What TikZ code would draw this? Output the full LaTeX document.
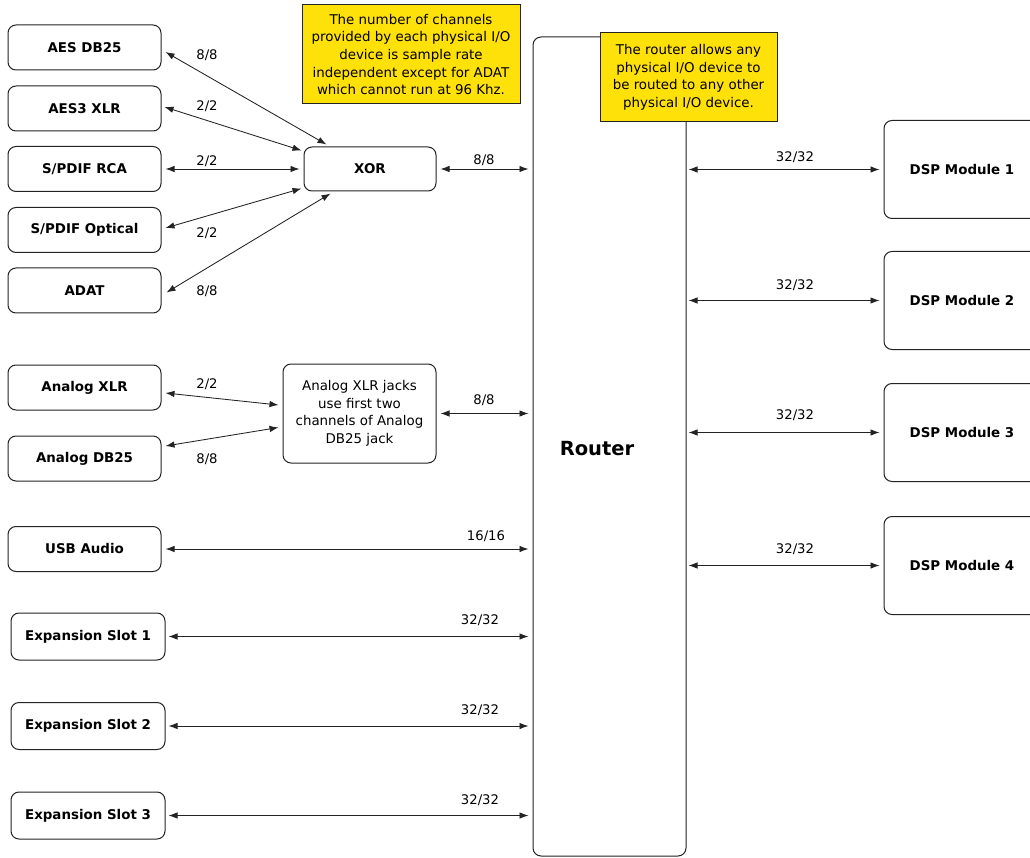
\documentclass[tikz,border=0pt]{standalone}
\usepackage{fontspec}
\setmainfont{DejaVu Sans}
\usetikzlibrary{arrows.meta}
\definecolor{noteyellow}{RGB}{255,225,10}
\definecolor{ink}{RGB}{35,35,35}
\begin{document}
\begin{tikzpicture}[x=1pt,y=-1pt,
  box/.style={draw=ink, line width=1pt, rounded corners=8pt, inner sep=0pt,
    font=\fontsize{13.4}{15}\selectfont\bfseries},
  dev/.style={box, minimum width=153pt, minimum height=45pt},
  expbox/.style={box, minimum width=154pt, minimum height=47pt},
  dspbox/.style={box, minimum width=156pt, minimum height=98pt},
  notebox/.style={draw=ink, line width=1pt, fill=noteyellow, align=center, inner sep=0pt,
    font=\fontsize{13.4}{17.6}\selectfont},
  lbl/.style={font=\fontsize{13.2}{15}\selectfont, inner sep=0pt},
  link/.style={{Latex[length=9pt,width=6.5pt]}-{Latex[length=9pt,width=6.5pt]}, draw=ink, line width=0.85pt},
  gapped/.style={link, shorten <=4pt, shorten >=4pt}
]
\useasboundingbox (0,0) rectangle (1030,858);
\fill[white] (0,0) rectangle (1030,858);
\clip (0,0) rectangle (1030,858);

% left devices
\node[dev] (aesdb) at (84.5,47.5) {AES DB25};
\node[dev] (aes3) at (84.5,108.5) {AES3 XLR};
\node[dev] (rca) at (84.5,169) {S/PDIF RCA};
\node[dev] (opt) at (84.5,230) {S/PDIF Optical};
\node[dev] (adat) at (84.5,290.5) {ADAT};
\node[dev] (axlr) at (84.5,387.5) {Analog XLR};
\node[dev] (adb) at (84.5,458.5) {Analog DB25};
\node[dev] (usb) at (84.5,549) {USB Audio};
\node[expbox] (exp1) at (88,636.5) {Expansion Slot 1};
\node[expbox] (exp2) at (88,726) {Expansion Slot 2};
\node[expbox] (exp3) at (88,815.5) {Expansion Slot 3};

% middle
\node[box, minimum width=132pt, minimum height=44pt] (xor) at (370,169) {XOR};
\node[box, minimum width=153pt, minimum height=99pt, align=center,
  font=\fontsize{13.4}{17.6}\selectfont] (anote) at (359.5,413.5)
  {Analog XLR jacks\\use first two\\channels of Analog\\DB25 jack};

% router
\node[box, minimum width=153pt, minimum height=819pt] (router) at (609.5,446.5) {};
\node[font=\fontsize{19.5}{22}\selectfont\bfseries, inner sep=0pt] (routerlbl) at (597,449) {Router};

% DSP modules
\node[dspbox] (dsp1) at (962,169.5) {DSP Module 1};
\node[dspbox] (dsp2) at (962,300.5) {DSP Module 2};
\node[dspbox] (dsp3) at (962,432.5) {DSP Module 3};
\node[dspbox] (dsp4) at (962,565.5) {DSP Module 4};

% notes
\node[notebox, minimum width=218pt, minimum height=99pt] (note1) at (411,54.5)
  {The number of channels\\provided by each physical I/O\\device is sample rate\\independent except for ADAT\\which cannot run at 96 Khz.};
\node[notebox, minimum width=177pt, minimum height=89pt] (note2) at (688.5,77.5)
  {The router allows any\\physical I/O device to\\be routed to any other\\physical I/O device.};

% XOR fan
\draw[link] ([shift={(4,4.5)}]aesdb.east) -- ([shift={(23,-2)}]xor.north west);
\draw[link] ([shift={(3,-1.5)}]aes3.east) -- ([shift={(-2,4)}]xor.north west);
\draw[gapped] (rca.east) -- (xor.west);
\draw[link] ([shift={(4,-2)}]opt.east) -- ([shift={(-2,-3)}]xor.south west);
\draw[link] ([shift={(5,2)}]adat.east) -- ([shift={(27,2)}]xor.south west);
\node[lbl] (l1) at (207,55) {8/8};
\node[lbl] (l2) at (207,106) {2/2};
\node[lbl] (l3) at (207,161) {2/2};
\node[lbl] (l4) at (207,233) {2/2};
\node[lbl] (l5) at (207,291) {8/8};

\draw[gapped] (xor.east) -- (router.west |- xor.east);
\node[lbl] (l6) at (484,160) {8/8};

% analog
\draw[link] ([shift={(4,5.5)}]axlr.east) -- ([shift={(-4,-8.5)}]anote.west);
\draw[link] ([shift={(4,-12.5)}]adb.east) -- ([shift={(-4,14)}]anote.west);
\node[lbl] (l7) at (207,384) {2/2};
\node[lbl] (l8) at (207,459) {8/8};
\draw[gapped] (anote.east) -- (router.west |- anote.east);
\node[lbl] (l9) at (484,400) {8/8};

% usb / expansion
\draw[gapped] (usb.east) -- (router.west |- usb.east);
\node[lbl] (l10) at (486,536) {16/16};
\draw[gapped, shorten <=3pt] (exp1.east) -- (router.west |- exp1.east);
\node[lbl] (l11) at (480,620) {32/32};
\draw[gapped, shorten <=3pt] (exp2.east) -- (router.west |- exp2.east);
\node[lbl] (l12) at (480,710) {32/32};
\draw[gapped, shorten <=3pt] (exp3.east) -- (router.west |- exp3.east);
\node[lbl] (l13) at (480,800) {32/32};

% router to DSP
\draw[link, shorten <=2pt, shorten >=4pt] (router.east |- dsp1.west) -- (dsp1.west);
\draw[link, shorten <=2pt, shorten >=4pt] (router.east |- dsp2.west) -- (dsp2.west);
\draw[link, shorten <=2pt, shorten >=4pt] (router.east |- dsp3.west) -- (dsp3.west);
\draw[link, shorten <=2pt, shorten >=4pt] (router.east |- dsp4.west) -- (dsp4.west);
\node[lbl] (l14) at (795,157) {32/32};
\node[lbl] (l15) at (795,285) {32/32};
\node[lbl] (l16) at (795,415) {32/32};
\node[lbl] (l17) at (795,549) {32/32};
\end{tikzpicture}
\end{document}
